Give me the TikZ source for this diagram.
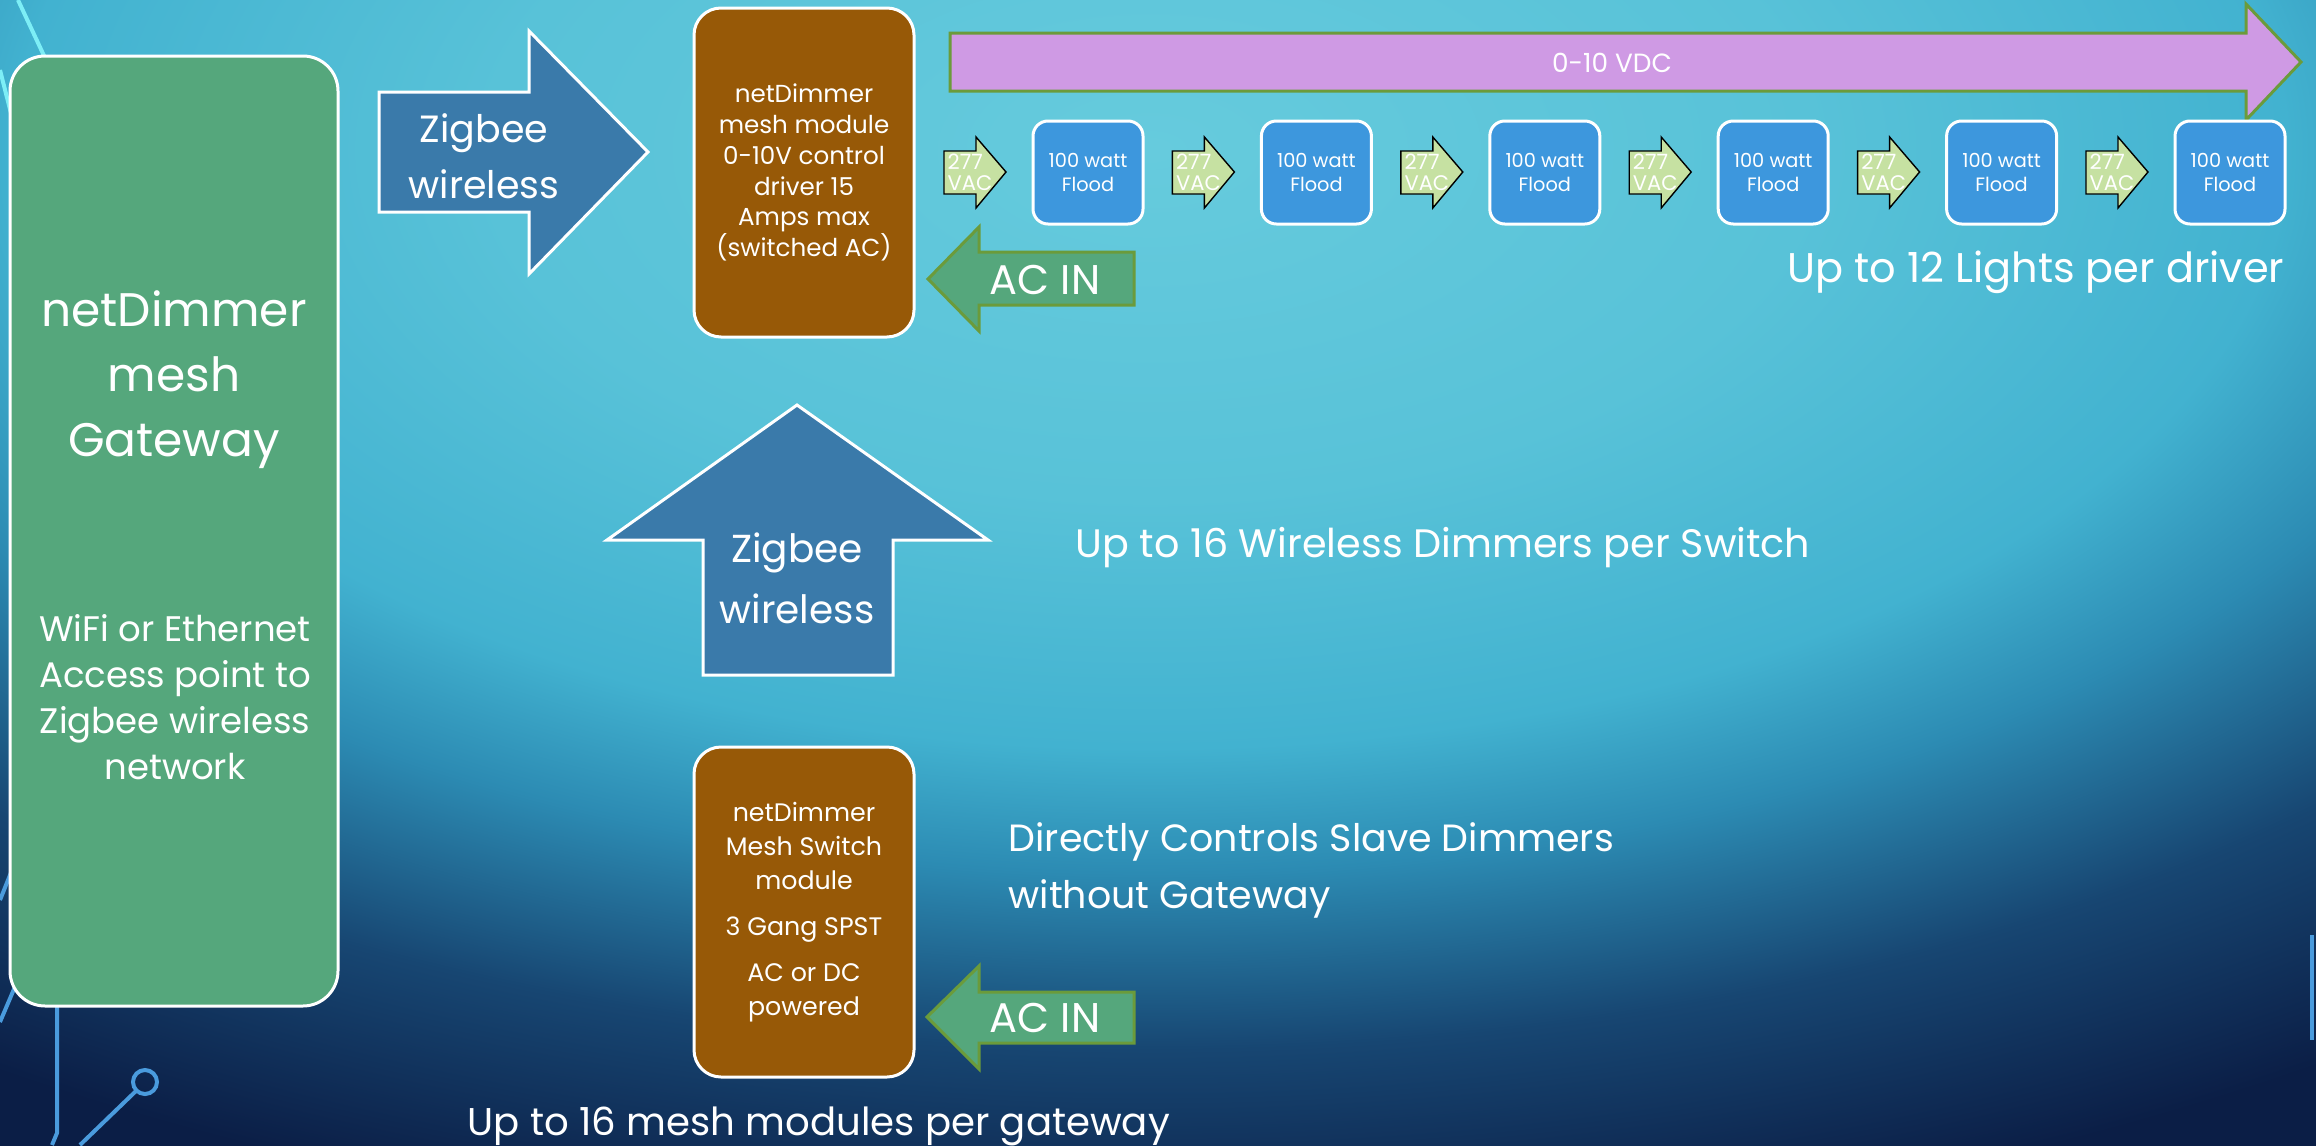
\documentclass[tikz,border=0pt]{standalone}
\usepackage{fontspec}
\setmainfont{Poppins}
\usetikzlibrary{positioning}

\definecolor{gwgreen}{HTML}{55A77C}
\definecolor{brownbox}{HTML}{975907}
\definecolor{zigblue}{HTML}{3A7AAA}
\definecolor{floodblue}{HTML}{3D97DD}
\definecolor{lilac}{HTML}{CF9AE4}
\definecolor{olive}{HTML}{6B9B3B}
\definecolor{lime}{HTML}{C6E1A2}
\definecolor{circuit}{HTML}{4A9BDD}
\definecolor{aqua}{HTML}{7DEEF6}
\definecolor{bgA}{HTML}{66CBDD}
\definecolor{bgB}{HTML}{58C2D8}
\definecolor{bgC}{HTML}{42B2D0}
\definecolor{bgD}{HTML}{2C8BB3}
\definecolor{bgE}{HTML}{174672}
\definecolor{bgF}{HTML}{0B1E46}

\pgfdeclareradialshading{slidebg}{\pgfpoint{0bp}{0bp}}{color(0bp)=(bgA); color(6.7bp)=(bgB); color(11.5bp)=(bgC); color(13.9bp)=(bgD); color(17.3bp)=(bgE); color(21.2bp)=(bgF); color(50bp)=(bgF)}

\begin{document}
\begin{tikzpicture}[x=0.1mm,y=-0.1mm,
        every node/.style={text=white,inner sep=0pt},
        gateway/.style={fill=gwgreen,draw=white,line width=0.3mm,
            rounded corners=3.5mm,minimum width=32.8mm,minimum height=95mm},
        module/.style={fill=brownbox,draw=white,line width=0.3mm,
            rounded corners=2.7mm,minimum width=22mm,align=center},
        flood/.style={fill=floodblue,draw=white,line width=0.3mm,
            rounded corners=1.5mm,minimum width=11mm,minimum height=10.3mm,
            align=center,font=\fontsize{5.5}{6.8}\selectfont},
        zigarrow/.style={fill=zigblue,draw=white,line width=0.3mm},
        acarrow/.style={fill=gwgreen,draw=olive,line width=0.3mm},
        vdcarrow/.style={fill=lilac,draw=olive,line width=0.3mm},
        vacarrow/.style={fill=lime},
        trace/.style={draw=circuit,line width=0.4mm},
        caption/.style={font=\fontsize{11.3}{16}\selectfont}]
\useasboundingbox (0,0) rectangle (2316,1145);
\begin{scope}
\clip (0,0) rectangle (2316,1145);
\shade[shading=slidebg] (-1320,-1150) rectangle (3620,1450);
\draw[draw=aqua,line width=0.4mm] (18,0) -- (60,90);
\draw[draw=aqua,line width=0.4mm] (0,70) -- (14,125);
\draw[trace] (0,900) -- (20,850);
\draw[trace] (0,1022) -- (20,975);
\draw[trace] (57,990) -- (57,1133) -- (52,1145);
\draw[trace] (145,1082) circle (12);
\draw[trace] (137,1090) -- (80,1145);
\draw[trace] (2312,935) -- (2312,1040);
\end{scope}

\node[gateway] (gw) at (174,531) {};
\node[align=center,font=\fontsize{13.4}{18.5}\selectfont] (gwtitle) at (174,380)
    {netDimmer\\mesh\\Gateway};
\node[align=center,font=\fontsize{10.1}{13.1}\selectfont] (gwsub) at (175,697)
    {WiFi or Ethernet\\Access point to\\Zigbee wireless\\network};

\draw[zigarrow] (379,92) -- (529,92) -- (529,31) -- (648,152) -- (529,274)
    -- (529,212) -- (379,212) -- cycle;
\node[align=center,font=\fontsize{10.8}{15.9}\selectfont] (zigtop) at (484,156)
    {Zigbee\\wireless};

\node[module,minimum height=32.9mm,font=\fontsize{7}{8.8}\selectfont] (driver)
    at (804,172.5) {netDimmer\\mesh module\\0-10V control\\driver 15\\Amps max\\(switched AC)};

\draw[vdcarrow] (950,33) -- (2246,33) -- (2246,4) -- (2301,62) -- (2246,120)
    -- (2246,91) -- (950,91) -- cycle;
\node[font=\fontsize{7.5}{8}\selectfont] (vdc) at (1612,63) {0-10 VDC};

\foreach \i in {0,...,5}{
    \draw[vacarrow,xshift=\i*22.84mm] (944,151) -- (976,151) -- (976,137)
        -- (1006,172) -- (976,208) -- (976,194) -- (944,194) -- cycle;
    \node[align=left,anchor=west,font=\fontsize{6}{6}\selectfont] (vac\i)
        at (947+\i*228.4,172) {277\\VAC};
    \node[flood] (flood\i) at (1088+\i*228.4,172.5) {100 watt\\Flood};
}

\draw[acarrow] (928,279) -- (979,227) -- (979,252) -- (1134,252) -- (1134,305)
    -- (979,305) -- (979,331) -- cycle;
\node[font=\fontsize{11.8}{12}\selectfont] (acin1) at (1045,280) {AC IN};

\node[caption,anchor=base east,font=\fontsize{11.8}{17}\selectfont] (lights)
    at (2285,282) {Up to 12 Lights per driver};

\draw[zigarrow] (797,405) -- (988,540) -- (893,540) -- (893,675) -- (703,675)
    -- (703,540) -- (607,540) -- cycle;
\node[align=center,font=\fontsize{11.1}{17.4}\selectfont] (zigup) at (797,578)
    {Zigbee\\wireless};

\node[caption,anchor=base west] (dimmers) at (1075,557)
    {Up to 16 Wireless Dimmers per Switch};

\node[module,minimum height=33mm,font=\fontsize{7.2}{9.8}\selectfont] (switch)
    at (804,912) {netDimmer\\Mesh Switch\\module\\[3.2pt]3 Gang SPST\\[3.2pt]AC or DC\\powered};

\draw[acarrow] (927,1017) -- (979,966) -- (979,992) -- (1134,992) -- (1134,1043)
    -- (979,1043) -- (979,1069) -- cycle;
\node[font=\fontsize{11.8}{12}\selectfont] (acin2) at (1045,1018) {AC IN};

\node[caption,anchor=base west,align=left,font=\fontsize{10.8}{16}\selectfont]
    (direct) at (1008,908) {Directly Controls Slave Dimmers\\without Gateway};

\node[caption,anchor=base west,font=\fontsize{11}{16}\selectfont] (meshmods)
    at (467,1135) {Up to 16 mesh modules per gateway};
\end{tikzpicture}
\end{document}
